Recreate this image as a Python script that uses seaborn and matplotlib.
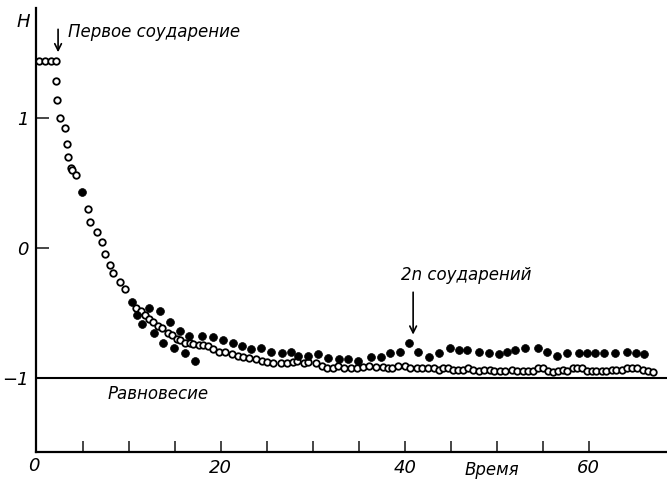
import matplotlib
matplotlib.use("Agg")
import matplotlib.pyplot as plt
import numpy as np
import pandas as pd
import seaborn as sns

# H-function versus time: open circles = main run, filled circles = reversed run
open_t = [0.2, 0.9, 1.5, 2.1,
          2.1, 2.2, 2.5, 3.0, 3.3, 3.4, 3.7, 3.8, 4.2,
          5.5, 5.8, 6.5, 7.1, 7.4, 7.9, 8.3, 9.0, 9.6,
          10.8, 11.3, 11.7, 12.2, 12.6, 13.2, 13.6, 14.2, 14.7, 15.2, 15.6, 16.1,
          16.6, 17.0, 17.6, 18.1, 18.6, 19.1, 19.8, 20.5, 21.2, 21.9, 22.4, 23.1,
          23.8, 24.5, 25.0, 25.7, 26.5, 27.2, 27.8, 28.3, 29.0, 29.5, 30.3, 31.0,
          31.5, 32.2, 32.7, 33.4, 34.1, 34.8, 35.5, 36.1, 36.9, 37.6, 38.2, 38.6,
          39.3, 40.0, 40.6, 41.3, 41.9, 42.5, 43.2, 43.7, 44.1, 44.7, 45.2, 45.8,
          46.3, 46.9, 47.4, 48.1, 48.6, 49.3, 49.7, 50.3, 50.9, 51.6, 52.2, 52.8,
          53.4, 53.9, 54.5, 55.0, 55.6, 56.1, 56.7, 57.2, 57.6, 58.3, 58.7, 59.3,
          59.8, 60.4, 60.8, 61.4, 61.9, 62.5, 63.0, 63.6, 64.1, 64.7, 65.2, 65.9,
          66.4, 67.0]
open_h = [1.44, 1.44, 1.44, 1.44,
          1.29, 1.14, 1.00, 0.93, 0.80, 0.70, 0.62, 0.60, 0.56,
          0.30, 0.20, 0.12, 0.05, -0.05, -0.13, -0.19, -0.26, -0.32,
          -0.46, -0.49, -0.52, -0.55, -0.57, -0.60, -0.62, -0.66, -0.67, -0.70, -0.71, -0.73,
          -0.73, -0.74, -0.75, -0.75, -0.76, -0.78, -0.80, -0.80, -0.82, -0.83, -0.84, -0.85,
          -0.86, -0.87, -0.88, -0.89, -0.89, -0.89, -0.88, -0.87, -0.89, -0.88, -0.89, -0.91,
          -0.93, -0.93, -0.91, -0.93, -0.93, -0.93, -0.92, -0.91, -0.92, -0.92, -0.93, -0.93,
          -0.91, -0.91, -0.93, -0.93, -0.93, -0.93, -0.93, -0.94, -0.93, -0.93, -0.94, -0.94,
          -0.94, -0.93, -0.94, -0.95, -0.94, -0.94, -0.95, -0.95, -0.95, -0.94, -0.95, -0.95,
          -0.95, -0.95, -0.93, -0.93, -0.95, -0.96, -0.95, -0.94, -0.95, -0.93, -0.93, -0.93,
          -0.95, -0.95, -0.95, -0.95, -0.95, -0.94, -0.94, -0.94, -0.93, -0.93, -0.93, -0.94,
          -0.95, -0.96]

filled_t = [4.9, 10.3, 10.9, 11.4, 12.2, 12.7, 13.4, 13.7, 14.5, 14.9, 15.6, 16.1,
            16.5, 17.2, 17.9, 19.1, 20.2, 21.3, 22.3, 23.3, 24.4, 25.5, 26.6, 27.6,
            28.4, 29.5, 30.6, 31.6, 32.8, 33.8, 34.9, 36.3, 37.4, 38.4, 39.5, 40.5,
            41.4, 42.6, 43.7, 44.9, 45.9, 46.8, 48.1, 49.2, 50.2, 51.1, 52.0, 53.1,
            54.5, 55.4, 56.5, 57.6, 58.9, 59.8, 60.7, 61.7, 62.8, 64.1, 65.1, 66.0]
filled_h = [0.43, -0.42, -0.52, -0.59, -0.46, -0.66, -0.49, -0.73, -0.57, -0.77, -0.64, -0.81,
            -0.68, -0.87, -0.68, -0.69, -0.71, -0.73, -0.76, -0.78, -0.77, -0.80, -0.81, -0.80,
            -0.83, -0.83, -0.82, -0.85, -0.86, -0.86, -0.87, -0.84, -0.84, -0.81, -0.80, -0.73,
            -0.80, -0.84, -0.81, -0.77, -0.79, -0.79, -0.80, -0.81, -0.82, -0.80, -0.79, -0.77,
            -0.77, -0.80, -0.83, -0.81, -0.81, -0.81, -0.81, -0.81, -0.81, -0.80, -0.81, -0.82]

x_ticks = [5, 10, 15, 20, 25, 30, 35, 40, 45, 50, 55, 60]
x_tick_labels = ["", "", "", "20", "", "", "", "40", "", "", "", "60"]
y_ticks = [1, 0, -1]
y_tick_labels = ["1", "0", "\u22121"]

sns.set_style("ticks")
plt.rcParams["font.family"] = ["DejaVu Sans"]

lab = dict(style="italic", color="black")

fig = plt.figure(figsize=(6.67, 4.84), dpi=100)
ax = fig.add_axes([36 / 667, 32 / 484, 631 / 667, 444 / 484])

df_open = pd.DataFrame({"t": open_t, "H": open_h})
df_filled = pd.DataFrame({"t": filled_t, "H": filled_h})

sns.scatterplot(data=df_open, x="t", y="H", ax=ax, s=22, color="white",
                edgecolor="black", linewidth=1.3, zorder=3)
sns.scatterplot(data=df_filled, x="t", y="H", ax=ax, s=32, color="black",
                edgecolor="black", linewidth=0.5, zorder=4)

ax.set_xlim(-0.1, 68.5)
ax.set_ylim(-1.575, 1.853)
ax.axhline(-1, color="black", lw=1.5, zorder=2)

for side in ("top", "right"):
    ax.spines[side].set_visible(False)
for side in ("left", "bottom"):
    ax.spines[side].set_linewidth(1.6)
    ax.spines[side].set_color("black")

ax.set_xticks(x_ticks)
ax.set_xticklabels(x_tick_labels, **lab)
ax.set_yticks(y_ticks)
ax.set_yticklabels(y_tick_labels, **lab)
ax.tick_params(axis="x", direction="in", length=8, width=1.2, pad=5, labelsize=13)
ax.tick_params(axis="y", direction="in", length=9, width=1.2, pad=5, labelsize=13)
ax.set_xlabel("")
ax.set_ylabel("")

fig.text(34 / 667, 1 - 466 / 484, "0", ha="center", va="center", fontsize=13, **lab)
fig.text(23 / 667, 1 - 22 / 484, "H", ha="center", va="center", fontsize=13, **lab)
fig.text(492 / 667, 1 - 470 / 484, "Время", ha="center", va="center", fontsize=12, **lab)

ax.text(3.4, 1.67, "Первое соударение", ha="left", va="center", fontsize=12, **lab)
ax.text(39.6, -0.21, "2n соударений", ha="left", va="center", fontsize=12, **lab)
ax.text(7.7, -1.13, "Равновесие", ha="left", va="center", fontsize=12, **lab)

arrow = dict(arrowstyle="->", color="black", lw=1.2, mutation_scale=12)
ax.annotate("", xy=(2.3, 1.49), xytext=(2.3, 1.71), arrowprops=arrow)
ax.annotate("", xy=(40.9, -0.69), xytext=(40.9, -0.32), arrowprops=arrow)

fig.savefig("out.png", dpi=100)
